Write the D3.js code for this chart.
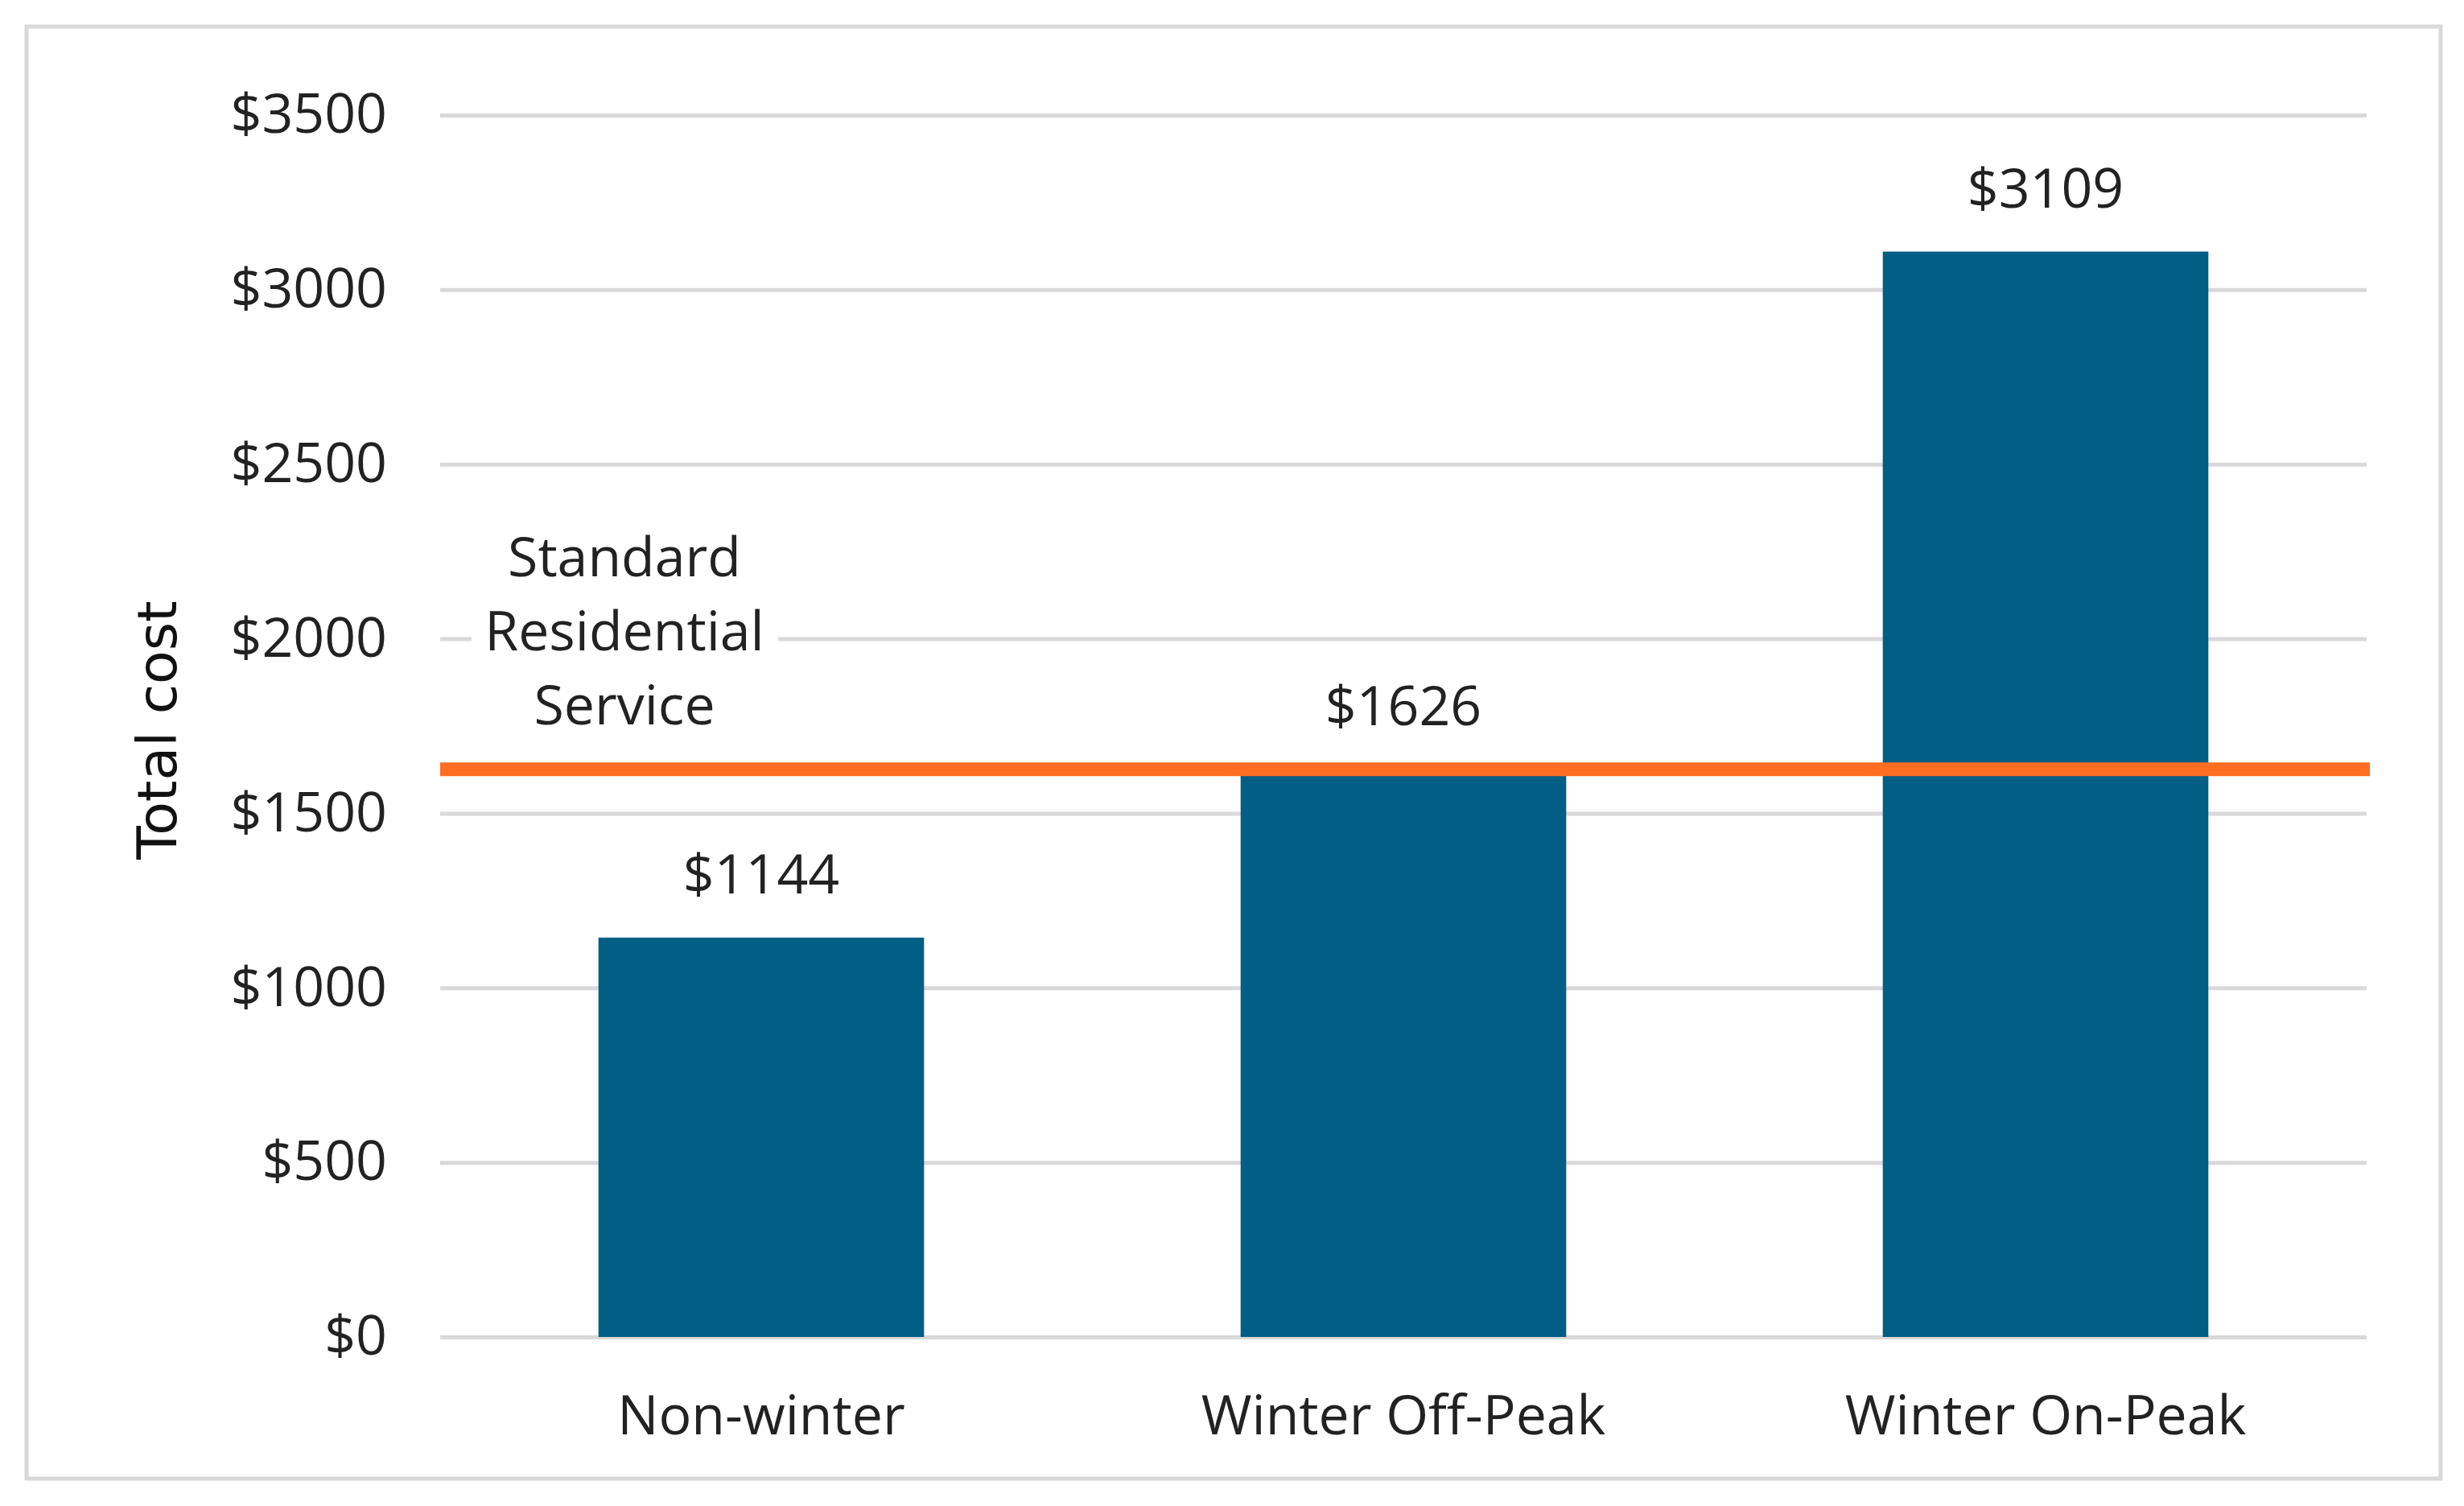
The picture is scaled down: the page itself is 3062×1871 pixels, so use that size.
<!DOCTYPE html>
<html>
<head>
<meta charset="utf-8">
<script src="https://cdn.jsdelivr.net/npm/d3@7"></script>
<style>
  body { margin: 0; background: #ffffff; }
  svg { display: block; }
</style>
</head>
<body>
<script>
var categories = ["Non-winter", "Winter Off-Peak", "Winter On-Peak"];
var totals = [1144, 1626, 3109];
var standardService = 1626;
var standardLabel = ["Standard", "Residential", "Service"];
var yTicks = [0, 500, 1000, 1500, 2000, 2500, 3000, 3500];

var w = 3062;
var h = 1871;
var plotL = 547, plotR = 2941, plotT = 143, plotB = 1661;
var font = "'Open Sans', 'Noto Sans', sans-serif";

var data = categories.map(function(c, i){
  return { Category: c, Total: totals[i] };
});

var svg = d3.select("body")
  .append("svg")
  .attr("width", w)
  .attr("height", h);

svg.append("rect")
  .attr("width", w)
  .attr("height", h)
  .attr("fill", "#ffffff");

// chart border
svg.append("rect")
  .attr("x", 33)
  .attr("y", 33)
  .attr("width", 3000)
  .attr("height", 1804)
  .attr("fill", "none")
  .attr("stroke", "#d9d9d9")
  .attr("stroke-width", 5);

var xScale = d3.scaleBand()
  .domain(categories)
  .range([plotL, plotR])
  .paddingInner(0)
  .paddingOuter(0);

var yScale = d3.scaleLinear()
  .domain([0, 3500])
  .range([plotB, plotT]);

var barW = xScale.bandwidth() * 0.507;

var yAxis = d3.axisLeft(yScale)
  .tickValues(yTicks)
  .tickSize(-(plotR - plotL))
  .tickPadding(66)
  .tickFormat(function(d){ return "$" + d; });

var gy = svg.append("g")
  .attr("transform", "translate(" + plotL + ",0)")
  .call(yAxis);

gy.select(".domain").remove();
gy.selectAll(".tick line")
  .attr("stroke", "#d9d9d9")
  .attr("stroke-width", 5);
gy.selectAll(".tick text")
  .attr("fill", "#222222")
  .style("font-family", font)
  .style("font-size", "68px");

// bars
svg.selectAll("rect.bar")
  .data(data)
  .enter().append("rect")
  .attr("class", "bar")
  .attr("x", function(d){ return xScale(d.Category) + (xScale.bandwidth() - barW) / 2; })
  .attr("width", barW)
  .attr("y", function(d){ return yScale(d.Total); })
  .attr("height", function(d){ return plotB - yScale(d.Total); })
  .attr("fill", "#025e84");

// value labels
svg.selectAll("text.val")
  .data(data)
  .enter().append("text")
  .attr("class", "val")
  .attr("x", function(d){ return xScale(d.Category) + xScale.bandwidth() / 2; })
  .attr("y", function(d){ return yScale(d.Total) - 55; })
  .attr("text-anchor", "middle")
  .attr("fill", "#222222")
  .style("font-family", font)
  .style("font-size", "68px")
  .text(function(d){ return "$" + d.Total; });

// category labels
var xAxis = d3.axisBottom(xScale)
  .tickSize(0)
  .tickPadding(0);

var gx = svg.append("g")
  .attr("transform", "translate(0," + plotB + ")")
  .call(xAxis);
gx.select(".domain").remove();
gx.selectAll(".tick text")
  .attr("dy", null)
  .attr("y", 121)
  .attr("fill", "#222222")
  .style("font-family", font)
  .style("font-size", "68px");

// standard residential service line
svg.append("line")
  .attr("x1", plotL)
  .attr("x2", plotR + 4)
  .attr("y1", yScale(standardService))
  .attr("y2", yScale(standardService))
  .attr("stroke", "#ff6d22")
  .attr("stroke-width", 17);

svg.append("rect")
  .attr("x", 586)
  .attr("y", 640)
  .attr("width", 381)
  .attr("height", 290)
  .attr("fill", "#ffffff");

svg.append("text")
  .attr("text-anchor", "middle")
  .attr("fill", "#222222")
  .style("font-family", font)
  .style("font-size", "68px")
  .selectAll("tspan")
  .data(standardLabel)
  .enter().append("tspan")
  .attr("x", 776)
  .attr("y", function(d, i){ return 716 + i * 92; })
  .text(function(d){ return d; });

// y title
svg.append("text")
  .attr("transform", "translate(219,907) rotate(-90)")
  .attr("text-anchor", "middle")
  .attr("fill", "#111111")
  .style("font-family", "'DejaVu Sans', sans-serif")
  .style("font-size", "68px")
  .text("Total cost");
</script>
</body>
</html>
